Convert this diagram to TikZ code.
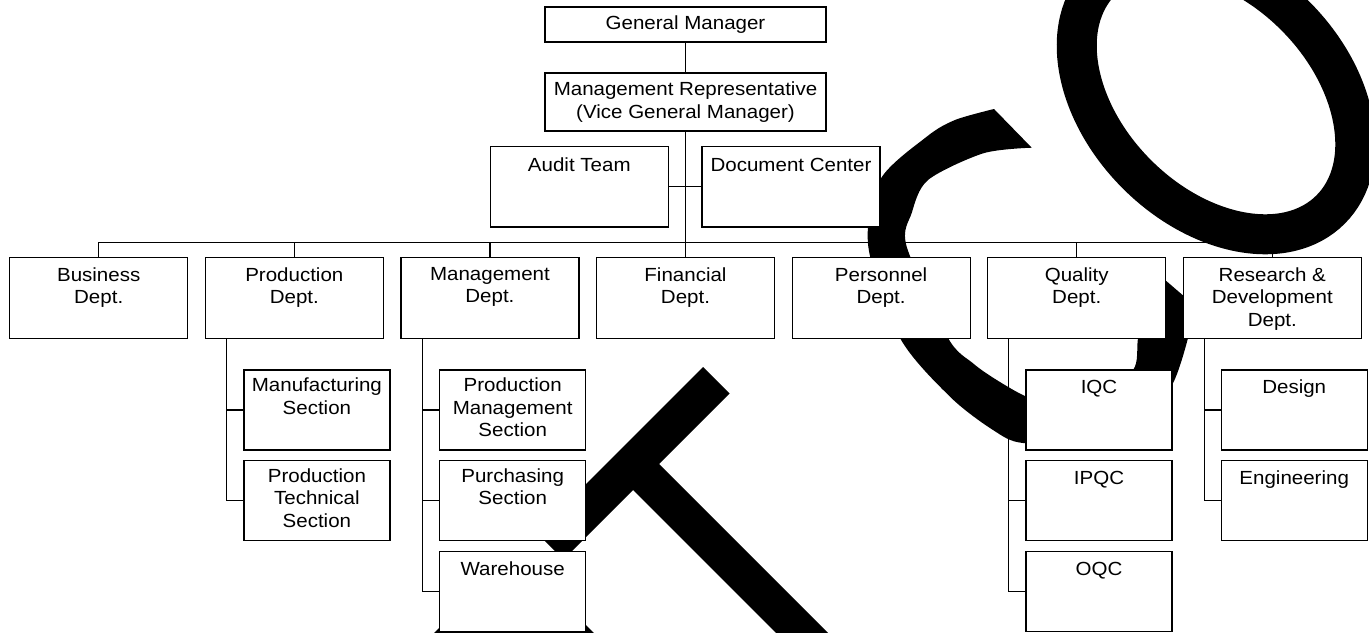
\documentclass[tikz,border=0pt]{standalone}
\usepackage{fontspec}
\newfontfamily\chartfont{Liberation Sans}[FakeStretch=1.08]
\usetikzlibrary{positioning, backgrounds, calc}

\begin{document}
\begin{tikzpicture}[x=0.5pt, y=-0.5pt,
    chart/.style={font=\chartfont\fontsize{9.5}{11.25}\selectfont},
    box/.style={draw=black, line width=0.6pt, fill=white, inner sep=0pt,
        minimum width=89pt, minimum height=40.3pt, chart},
    subbox/.style={box, minimum width=73pt, minimum height=40pt},
    lbl/.style={anchor=north, inner sep=0pt, align=center, chart,
        execute at begin node=\strut},
    link/.style={draw=black, line width=0.6pt},
    wm/.style={fill=black}]
    \useasboundingbox (0,0) rectangle (1369,632);
    % Top
    \node[box, minimum width=140.5pt, minimum height=17.5pt] (gm) at (685.5,24.5) {General Manager};
    \node[box, minimum width=140.5pt, minimum height=29pt, align=center] (mr) at (685.5,102)
        {Management Representative\\(Vice General Manager)};
    \node[box] (audit) at (579.3,186.7) {};
    \node[box] (dc) at (791,186.7) {};
    \node[lbl] (audit-t) at (579.3,155.7) {Audit Team};
    \node[lbl] (dc-t) at (791,155.7) {Document Center};
    % Departments
    \node[box] (biz) at (98.7,298) {};
    \node[box] (prod) at (294.3,298) {};
    \node[box] (mgmt) at (489.9,298) {};
    \node[box] (fin) at (685.5,298) {};
    \node[box] (pers) at (881.1,298) {};
    \node[box] (qual) at (1076.7,298) {};
    \node[box] (rnd) at (1272.3,298) {};
    \node[lbl] (biz-t) at (98.7,267) {Business\\Dept.};
    \node[lbl] (prod-t) at (294.3,267) {Production\\Dept.};
    \node[lbl] (mgmt-t) at (489.9,267) {Management\\Dept.};
    \node[lbl] (fin-t) at (685.5,267) {Financial\\Dept.};
    \node[lbl] (pers-t) at (881.1,267) {Personnel\\Dept.};
    \node[lbl] (qual-t) at (1076.7,267) {Quality\\Dept.};
    \node[lbl] (rnd-t) at (1272.3,267) {Research \&\\Development\\Dept.};
    % Sections
    \node[subbox] (mfg) at (316.9,410) {};
    \node[subbox] (tech) at (316.9,500.7) {};
    \node[subbox] (pms) at (512.7,410) {};
    \node[subbox] (pur) at (512.7,500.7) {};
    \node[subbox] (wh) at (512.7,591.4) {};
    \node[subbox] (iqc) at (1099,410) {};
    \node[subbox] (ipqc) at (1099,500.7) {};
    \node[subbox] (oqc) at (1099,591.4) {};
    \node[subbox] (dsgn) at (1294.2,410) {};
    \node[subbox] (eng) at (1294.2,500.7) {};
    \node[lbl] (mfg-t) at (316.9,377.5) {Manufacturing\\Section};
    \node[lbl] (tech-t) at (316.9,468.2) {Production\\Technical\\Section};
    \node[lbl] (pms-t) at (512.7,377.5) {Production\\Management\\Section};
    \node[lbl] (pur-t) at (512.7,468.2) {Purchasing\\Section};
    \node[lbl] (wh-t) at (512.7,558.9) {Warehouse};
    \node[lbl] (iqc-t) at (1099,377.5) {IQC};
    \node[lbl] (ipqc-t) at (1099,468.2) {IPQC};
    \node[lbl] (oqc-t) at (1099,558.9) {OQC};
    \node[lbl] (dsgn-t) at (1294.2,377.5) {Design};
    \node[lbl] (eng-t) at (1294.2,468.2) {Engineering};
    \begin{scope}[on background layer]
        % Links
        \draw[link] (gm) -- (mr);
        \draw[link] (mr) -- (fin);
        \draw[link] (audit) -- (dc);
        \coordinate (bus) at (685.5,242.7);
        \draw[link] (biz.north) |- (bus) -| (rnd.north);
        \draw[link] (prod.north) -- (prod.north |- bus);
        \draw[link] (mgmt.north) -- (mgmt.north |- bus);
        \draw[link] (pers.north) -- (pers.north |- bus);
        \draw[link] (qual.north) -- (qual.north |- bus);
        \draw[link] (prod.south west) ++(22,0) |- (tech.west);
        \draw[link] (mfg.west) -- ++(-17,0);
        \draw[link] (mgmt.south west) ++(22,0) |- (wh.west);
        \draw[link] (pms.west) -- ++(-17,0);
        \draw[link] (pur.west) -- ++(-17,0);
        \draw[link] (qual.south west) ++(21.5,0) |- (oqc.west);
        \draw[link] (iqc.west) -- ++(-17,0);
        \draw[link] (ipqc.west) -- ++(-17,0);
        \draw[link] (rnd.south west) ++(22,0) |- (eng.west);
        \draw[link] (dsgn.west) -- ++(-17,0);
        % Watermark
        \begin{scope}
            \clip (0,0) rectangle (1369,632);
            \fill[wm] (703,367) -- (729.5,393.5) -- (659,464) -- (835,640) -- (783,640)
                -- (633,490) -- (563.5,559.5) -- (537,533) -- cycle;
            \fill[wm] (514,553) -- (600,639) -- (428,639) -- cycle;
            \fill[wm] plot[smooth, tension=0.5] coordinates {(994,109) (955,120) (926.7,136.7)
                (880,180) (868.3,246.7) (900,338) (950,396.7) (993,430) (1023,443) (1090,440)
                (1145,412) (1172,385) (1188,338) (1193,304)}
                -- plot[smooth, tension=0.5] coordinates {(1150,267) (1145,300) (1138,338)
                (1133,370) (1095,393) (1050,400) (1026.7,396.7) (996.7,380) (973,363.3)
                (948,338) (906.7,246.7) (911.7,213) (928,180) (983.3,153.3) (1031.7,147.7)}
                -- cycle;
            \begin{scope}[shift={(1216,95)}, rotate=-45]
                \draw[line width=20pt] (0,0) ellipse[x radius=162, y radius=112];
            \end{scope}
        \end{scope}
    \end{scope}
\end{tikzpicture}
\end{document}
